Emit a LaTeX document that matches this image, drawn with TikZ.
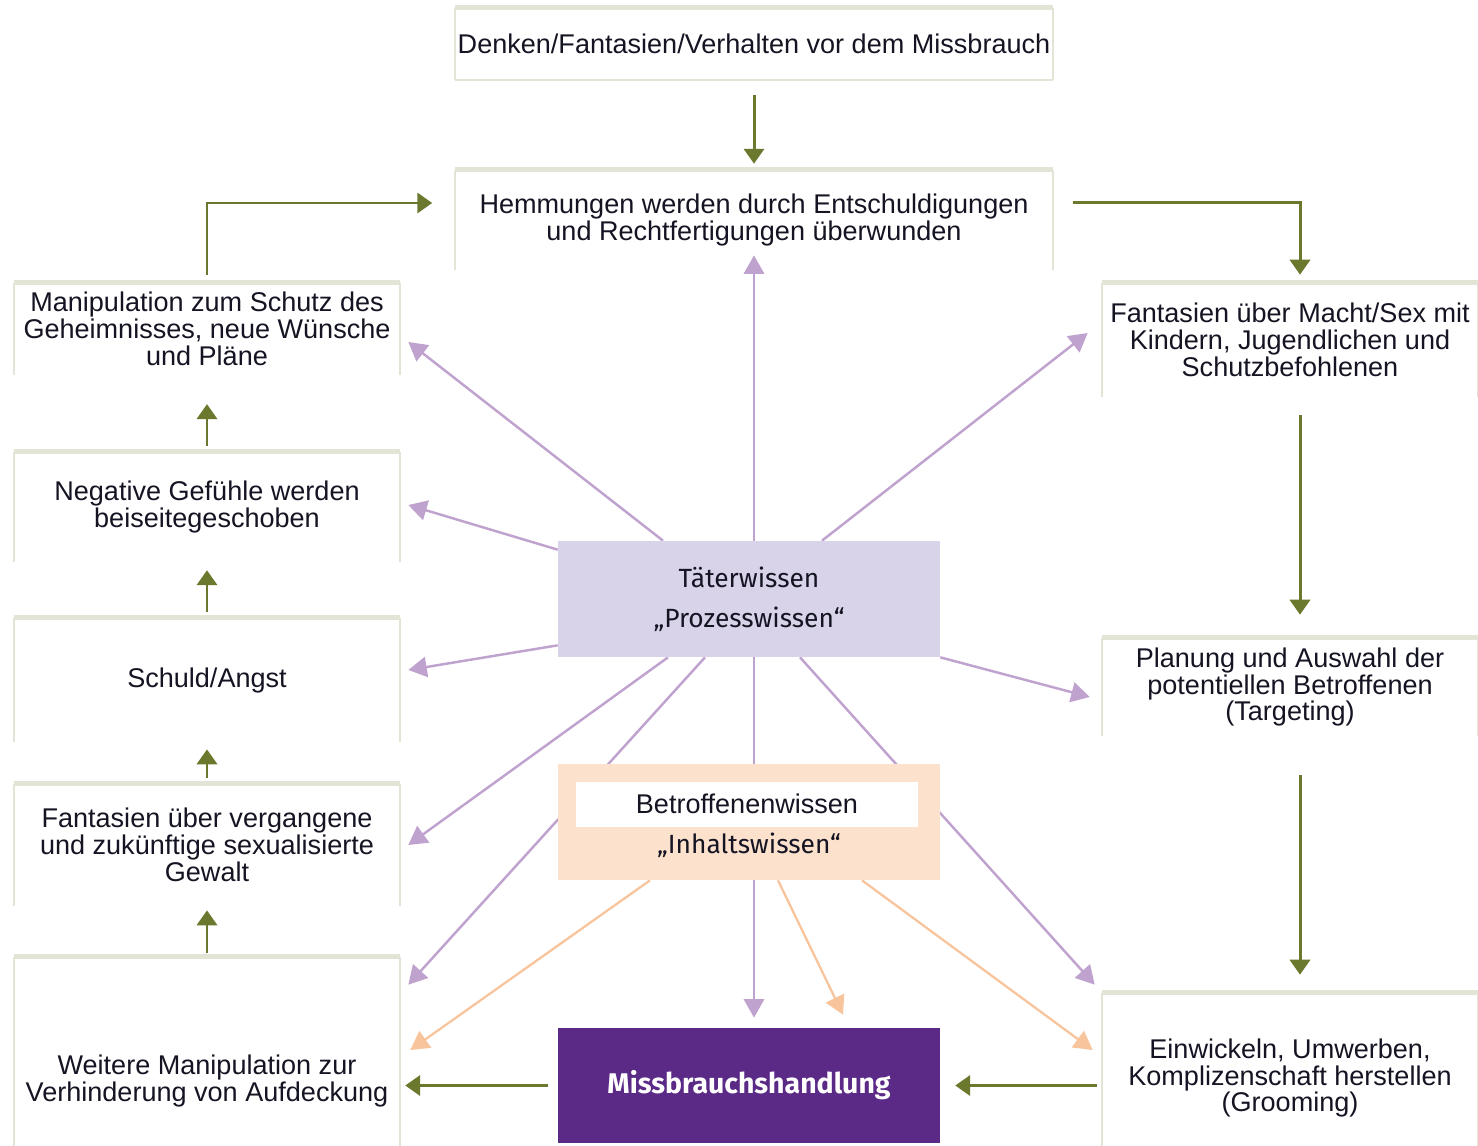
\documentclass[tikz,border=0pt]{standalone}
\usepackage{fontspec}
\setmainfont{Liberation Sans}
\newfontfamily\knowfont{Fira Sans}
\usetikzlibrary{arrows.meta,calc,backgrounds}

\definecolor{flowgreen}{RGB}{107,121,46}
\definecolor{tielila}{RGB}{192,162,207}
\definecolor{hopepeach}{RGB}{248,196,156}
\definecolor{terfill}{RGB}{217,211,234}
\definecolor{betfill}{RGB}{252,225,205}
\definecolor{misfill}{RGB}{91,42,134}
\definecolor{rimgray}{RGB}{226,229,214}
\definecolor{inkblue}{RGB}{20,20,35}

\begin{document}
\begin{tikzpicture}[x=0.02cm,y=-0.02cm,
  txt/.style={align=center,inner sep=0pt,text=inkblue,font=\fontsize{15.4}{15.3}\selectfont},
  leftbox/.style={txt,minimum width=7.72cm},
  rightbox/.style={txt,minimum width=7.52cm},
  topbox/.style={txt,minimum width=11.94cm},
  know/.style={inner sep=0pt,minimum width=7.64cm,minimum height=2.32cm,align=center,text=inkblue,font=\knowfont\fontsize{15}{23}\selectfont},
  flow/.style={flowgreen,line width=1.7pt,-{Triangle[width=11.5pt,length=8.5pt]}},
  tie/.style={tielila,line width=1.4pt,-{Triangle[width=11.5pt,length=10.5pt]}},
  hope/.style={hopepeach,line width=1.3pt,-{Triangle[width=11.5pt,length=10.5pt]}},
  rim/.style={rimgray,line width=2.8pt},
  side/.style={rimgray,line width=1.1pt}]
\useasboundingbox (0,0) rectangle (1478,1146);
\clip (0,0) rectangle (1478,1146);

% top row
\node[topbox,minimum height=1.44cm] (den) at (754,44) {Denken/Fantasien/Verhalten vor dem Missbrauch};
\node[topbox,minimum height=2cm] (hem) at (754,220) {Hemmungen werden durch Entschuldigungen\\und Rechtfertigungen überwunden};

% left column
\node[leftbox,minimum height=1.84cm] (man) at (207,329) {Manipulation zum Schutz des\\Geheimnisses, neue Wünsche\\und Pläne};
\node[leftbox,minimum height=2.2cm] (neg) at (207,507) {Negative Gefühle werden\\beiseitegeschoben};
\node[leftbox,minimum height=2.48cm] (sch) at (207,680) {Schuld/Angst};
\node[leftbox,minimum height=2.44cm] (fvg) at (207,845) {Fantasien über vergangene\\und zukünftige sexualisierte\\Gewalt};
\node[leftbox,minimum height=4.96cm] (wei) at (207,1081) {Weitere Manipulation zur\\Verhinderung von Aufdeckung};

% right column
\node[rightbox,minimum height=2.28cm] (fms) at (1290,340) {Fantasien über Macht/Sex mit\\Kindern, Jugendlichen und\\Schutzbefohlenen};
\node[rightbox,minimum height=1.96cm] (pla) at (1290,687) {Planung und Auswahl der\\potentiellen Betroffenen\\(Targeting)};
\node[rightbox,minimum height=3.4cm] (ein) at (1290,1078) {Einwickeln, Umwerben,\\Komplizenschaft herstellen\\(Grooming)};

% centre
\node[know,fill=terfill] (ter) at (749,599) {Täterwissen\\„Prozesswissen“};
\node[know,fill=betfill] (bet) at (749,822) {};
\node[txt,fill=white,minimum width=6.84cm,minimum height=0.9cm] (betw) at (747,804) {Betroffenenwissen};
\node[inner sep=0pt,text=inkblue,font=\knowfont\fontsize{15}{23}\selectfont] (beti) at (749,845) {„Inhaltswissen“};
\node[know,fill=misfill,text=white,minimum height=2.3cm,font=\knowfont\bfseries\fontsize{16.2}{18}\selectfont] (mis) at (749,1085.5) {Missbrauchshandlung};

% frames
\foreach \n in {den,hem,man,neg,sch,fvg,wei,fms,pla,ein}{
  \draw[side] (\n.south west) -- (\n.north west) (\n.north east) -- (\n.south east);
  \draw[rim] (\n.north west) -- (\n.north east);
}
\draw[side] (den.south west) -- (den.south east);

% cycle
\draw[flow,shorten <=8.5pt,shorten >=3.4pt] (den) -- (hem);
\draw[flow] ($(hem.north east)+(20,33)$) -| ($(fms.north)+(10,-8)$);
\draw[flow] ($(fms.south)+(10,18)$) -- ($(pla.north)+(10,-23)$);
\draw[flow] ($(pla.south)+(10,39)$) -- ($(ein.north)+(10,-18)$);
\draw[flow,shorten <=2.8pt,shorten >=8.5pt] (mis.east -| ein.west) -- (mis.east);
\draw[flow,shorten <=5.7pt,shorten >=2.8pt] (mis.west) -- (mis.west -| wei.east);
\foreach \a/\b/\s/\e in {wei/fvg/2.3pt/2.3pt,fvg/sch/3.4pt/4pt,sch/neg/3.4pt/4.5pt,neg/man/3.4pt/16.4pt}
  \draw[flow,shorten <=\s,shorten >=\e] (\a.north) -- (\b.south);
\draw[flow] ($(man.north)+(0,-8)$) |- ($(hem.west)+(-23,-17)$);

% knowledge rays
\begin{scope}[on background layer]
\draw[tie] ($(ter.north)+(5,0)$) -- ($(hem.south)+(0,-15)$);
\draw[tie] ($(ter.north)+(-86,0)$) -- ($(man.east)+(8,13)$);
\draw[tie] ($(ter.north west)+(0,9)$) -- ($(neg.east)+(8,-2)$);
\draw[tie] ($(ter.south west)+(0,-12)$) -- ($(sch.east)+(8,-10)$);
\draw[tie] ($(ter.south)+(-81,0)$) -- ($(fvg.east)+(8,0)$);
\draw[tie] ($(ter.south)+(-44,0)$) -- ($(wei.north east)+(8,28)$);
\draw[tie] ($(ter.north)+(73,0)$) -- ($(fms.west)+(-14,-7)$);
\draw[tie] (ter.south east) -- ($(pla.west)+(-12,10)$);
\draw[tie] ($(ter.south)+(51,0)$) -- ($(ein.north west)+(-7,-8)$);
\draw[tie] ($(ter.south)+(5,0)$) -- ($(mis.north)+(5,-10)$);
\draw[hope] ($(bet.south)+(-99,0)$) -- ($(wei.east)+(10,-31)$);
\draw[hope] ($(bet.south)+(29,0)$) -- ($(mis.north)+(94,-13)$);
\draw[hope] ($(bet.south)+(113,0)$) -- ($(ein.west)+(-9,-28)$);
\end{scope}
\end{tikzpicture}
\end{document}
